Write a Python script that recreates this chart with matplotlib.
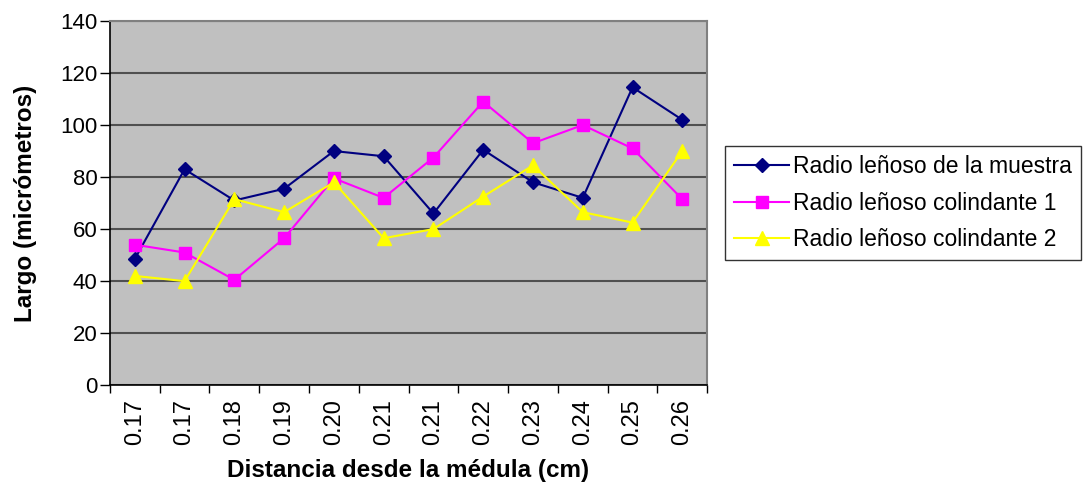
import numpy as np
import matplotlib.pyplot as plt
from matplotlib.ticker import FixedLocator

# --------------------------------------------------------------
# DATOS
# --------------------------------------------------------------
distancias = ["0.17", "0.17", "0.18", "0.19", "0.20", "0.21",
              "0.21", "0.22", "0.23", "0.24", "0.25", "0.26"]

radio_muestra = [48.5, 83, 71, 75.5, 90, 88, 66, 90.5, 78, 72, 114.5, 102]
radio_colindante_1 = [54, 51, 40.5, 56.5, 79.5, 72, 87.5, 109, 93, 100, 91, 71.5]
radio_colindante_2 = [42, 40, 71.5, 66.5, 78, 56.5, 60, 72.5, 84.5, 66.5, 62.5, 90]

etiquetas = ["Radio leñoso de la muestra",
             "Radio leñoso colindante 1",
             "Radio leñoso colindante 2"]

# --------------------------------------------------------------
# GRÁFICO
# --------------------------------------------------------------
plt.rcParams['font.family'] = ['Liberation Sans', 'DejaVu Sans']

fig = plt.figure(figsize=(10.88, 4.87), dpi=100)
ax = fig.add_axes([0.101, 0.209, 0.549, 0.748])
ax.set_facecolor("#C0C0C0")

x = np.arange(len(distancias))
ax.plot(x, radio_muestra, color="#000080", marker="D", markersize=7,
        linewidth=1.5, label=etiquetas[0], zorder=3)
ax.plot(x, radio_colindante_1, color="#FF00FF", marker="s", markersize=8,
        linewidth=1.5, label=etiquetas[1], zorder=3)
ax.plot(x, radio_colindante_2, color="#FFFF00", marker="^", markersize=10,
        linewidth=1.5, label=etiquetas[2], zorder=3)

ax.set_xlim(-0.5, len(distancias) - 0.5)
ax.set_ylim(0, 140)
ax.set_yticks(np.arange(0, 141, 20))
ax.yaxis.grid(True, color="#505050", linewidth=1.5)
ax.set_axisbelow(True)

ax.set_xticks(x)
ax.set_xticklabels(distancias, rotation=90, fontsize=17)
ax.tick_params(axis="x", which="major", length=0, pad=10)
ax.xaxis.set_minor_locator(FixedLocator(np.arange(-0.5, len(distancias), 1)))
ax.tick_params(axis="x", which="minor", length=6, width=1, direction="out")
ax.tick_params(axis="y", labelsize=16, length=7, width=1, direction="out", pad=2)

for lado in ["top", "right"]:
    ax.spines[lado].set_color("#808080")
    ax.spines[lado].set_linewidth(1.5)
for lado in ["left", "bottom"]:
    ax.spines[lado].set_color("black")
    ax.spines[lado].set_linewidth(1.2)

ax.set_xlabel("Distancia desde la médula (cm)", fontsize=17.5, fontweight="bold",
              labelpad=10)
ax.set_ylabel("Largo (micrómetros)", fontsize=17.5, fontweight="bold", labelpad=17)

leg = ax.legend(loc="center left", bbox_to_anchor=(1.03, 0.5), fontsize=16.5,
                frameon=True, fancybox=False, edgecolor="black",
                handlelength=2.4, borderpad=0.4, labelspacing=0.6,
                handletextpad=0.15, borderaxespad=0.0)
leg.get_frame().set_linewidth(1.0)

fig.savefig("out.png", dpi=100)
